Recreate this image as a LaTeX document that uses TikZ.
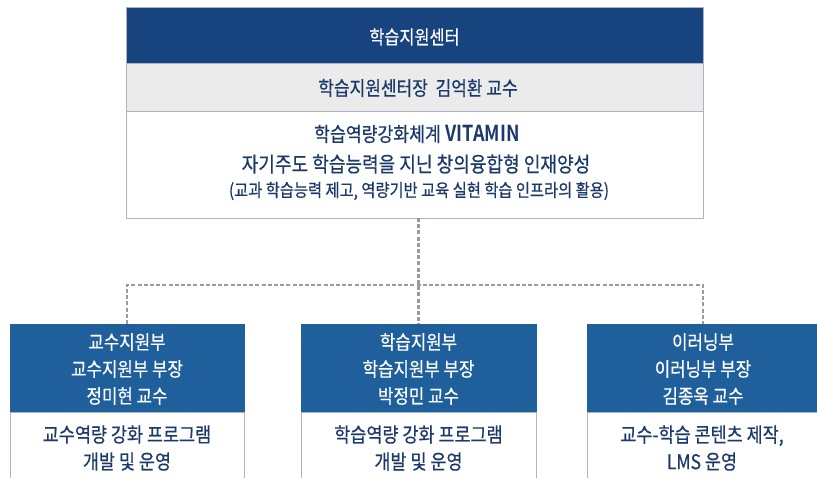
\documentclass[tikz,border=0pt]{standalone}
\usepackage{fontspec}
\setmainfont{Noto Sans CJK KR}[FakeStretch=0.86,FakeBold=0.5,BoldFont=Noto Sans CJK KR Bold,BoldFeatures={FakeStretch=0.82,FakeBold=0}]
\definecolor{navytop}{RGB}{23,67,127}
\definecolor{deptblue}{RGB}{31,96,156}
\definecolor{bandgray}{RGB}{235,235,235}
\definecolor{txtnavy}{RGB}{28,58,105}
\definecolor{edgegray}{RGB}{170,180,194}
\definecolor{dashgray}{RGB}{155,155,155}
\begin{document}
\begin{tikzpicture}[x=1pt,y=-1pt,
  band/.style={draw=edgegray,line width=0.8pt,inner sep=0pt,outer sep=0pt,anchor=north west},
  wtxt/.style={text=white,font=\fontsize{19.5}{27}\selectfont,align=center,inner sep=0pt},
  ntxt/.style={text=txtnavy,align=center,inner sep=0pt},
  link/.style={draw=dashgray,line width=2.4pt,dash pattern=on 4pt off 2.2pt}]
\useasboundingbox (0,0) rectangle (817,477);
% top box
\node[band,fill=navytop,minimum width=577pt,minimum height=56pt] (topA) at (126,7) {};
\node[band,fill=bandgray,minimum width=577pt,minimum height=48pt] (topB) at (126,63) {};
\node[band,fill=white,minimum width=577pt,minimum height=107pt] (topC) at (126,111) {};
\node[wtxt,font=\fontsize{19}{20}\selectfont] (tA) at (414.5,37) {학습지원센터};
\node[ntxt,font=\fontsize{19.8}{20}\selectfont] (tB) at (418,88) {학습지원센터장\ \ 김억환 교수};
\node[ntxt,font=\fontsize{20}{20}\selectfont] (tC1) at (417,134) {학습역량강화체계\hspace{5pt}{\fontsize{22}{22}\bfseries VITAMIN}};
\node[ntxt,font=\fontsize{21}{20}\selectfont] (tC2) at (416,164) {자기주도 학습능력을 지닌 창의융합형 인재양성};
\node[ntxt,font=\fontsize{17.8}{18}\selectfont] (tC3) at (419,191) {(교과 학습능력 제고, 역량기반 교육 실현 학습 인프라의 활용)};
% department boxes
\foreach \nm/\lx/\w in {L/10/234, M/301/235, R/587/232}{
  \node[band,fill=deptblue,draw=deptblue,minimum width=\w pt,minimum height=88pt] (\nm A) at (\lx,324) {};
  \node[band,fill=white,minimum width=\w pt,minimum height=70pt] (\nm B) at (\lx,412) {};
}
\node[wtxt] (LAt) at ([yshift=-1pt]LA.center) {교수지원부\\교수지원부 부장\\정미현 교수};
\node[wtxt] (MAt) at ([yshift=-1pt]MA.center) {학습지원부\\학습지원부 부장\\박정민 교수};
\node[wtxt] (RAt) at ([yshift=-1pt]RA.center) {이러닝부\\이러닝부 부장\\김종욱 교수};
\node[ntxt,font=\fontsize{20.3}{27}\selectfont] (LBt) at (127,448) {교수역량 강화 프로그램\\개발 및 운영};
\node[ntxt,font=\fontsize{20.3}{27}\selectfont] (MBt) at (418.5,448) {학습역량 강화 프로그램\\개발 및 운영};
\node[ntxt,font=\fontsize{20.3}{27}\selectfont] (RBt) at (702,448) {교수-학습 콘텐츠 제작,\\LMS 운영};
% connectors
\coordinate (hub) at (MA.north |- 0,285);
\draw[link] (topC.south -| MA.north) -- (MA.north);
\draw[link] (LA.north) -- (LA.north |- hub) -- (RA.north |- hub) -- (RA.north);
\end{tikzpicture}
\end{document}
